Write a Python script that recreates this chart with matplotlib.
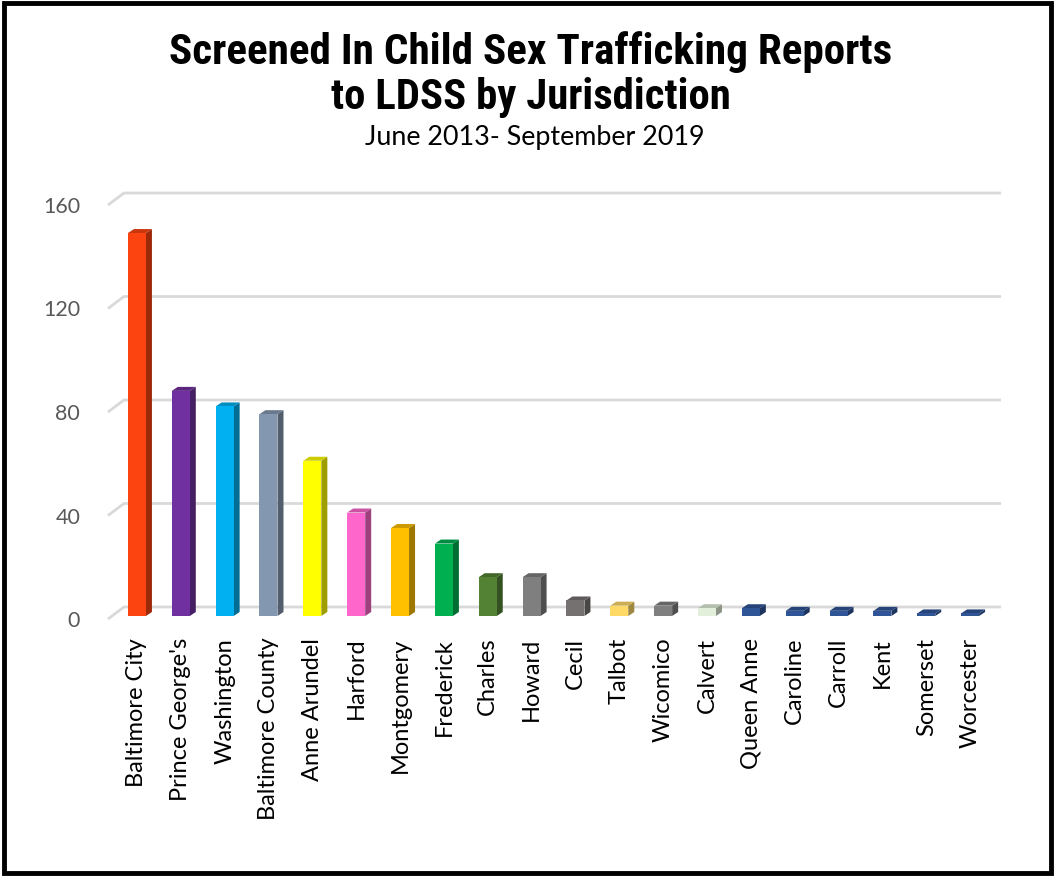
import matplotlib
matplotlib.use("Agg")
import matplotlib.pyplot as plt
import matplotlib.patches as mpatches
import matplotlib.transforms as mtransforms
from matplotlib.colors import to_rgb
from matplotlib import font_manager

categories = ["Baltimore City", "Prince George's", "Washington", "Baltimore County",
              "Anne Arundel", "Harford", "Montgomery", "Frederick", "Charles", "Howard",
              "Cecil", "Talbot", "Wicomico", "Calvert", "Queen Anne", "Caroline",
              "Carroll", "Kent", "Somerset", "Worcester"]
values = [148, 87, 81, 78, 60, 40, 34, 28, 15, 15, 6, 4, 4, 3, 3, 2, 2, 2, 1, 1]
colors = ["#FC4410", "#7030A0", "#00B0F0", "#8497B0", "#FFFF00", "#FF66CC",
          "#FFC000", "#00B050", "#548235", "#7F7F7F", "#767171", "#FFD966",
          "#7F7F7F", "#E2EFDA", "#2F5597", "#2F5597", "#2F5597", "#2F5597",
          "#2F5597", "#2F5597"]
yticks = [0, 40, 80, 120, 160]

title1 = "Screened In Child Sex Trafficking Reports"
title2 = "to LDSS by Jurisdiction"
subtitle = "June 2013- September 2019"

W, H = 1055, 878
fig = plt.figure(figsize=(W / 100, H / 100), dpi=100)
renderer = fig.canvas.get_renderer()

available = {f.name for f in font_manager.fontManager.ttflist}
title_family = "DejaVu Sans"
for cand in ["Liberation Sans Narrow", "DejaVu Sans Condensed", "Roboto Condensed", "Roboto"]:
    if cand in available:
        title_family = cand
        break


def fitted_text(x, y, s, target_w, size0, **kw):
    t = fig.text(x, y, s, fontsize=size0, **kw)
    w = t.get_window_extent(renderer).width
    t.set_fontsize(size0 * target_w / w)
    return t


# axes placement in pixels
ax_left_px, ax_right_px = 108, 985
ax_bottom_px, ax_top_px = 617, 203
ax = fig.add_axes([ax_left_px / W, 1 - ax_bottom_px / H,
                   (ax_right_px - ax_left_px) / W, (ax_bottom_px - ax_top_px) / H])
xmin, xmax = -0.66, 19.34
ax.set_xlim(xmin, xmax)
ax.set_ylim(0, 160)
for s in ax.spines.values():
    s.set_visible(False)

px_x = (xmax - xmin) / (ax_right_px - ax_left_px)   # data units per pixel (x)
px_y = 160 / (ax_bottom_px - ax_top_px)              # data units per pixel (y)

# back-wall gridlines with slanted left segment
gdx, gdy = 16 * px_x, 9 * px_y
for v in yticks:
    ax.plot([xmin, xmin + gdx, xmax + gdx], [v - 3 * px_y, v + gdy, v + gdy],
            color="#D9D9D9", lw=2, clip_on=False, zorder=1, solid_capstyle="butt")

# 3D-like bars
bw = 18 * px_x
bdx, bdy = 6 * px_x, 4 * px_y


def shade(c, f):
    r, g, b = to_rgb(c)
    return (r * f, g * f, b * f)


for i, (v, c) in enumerate(zip(values, colors)):
    x0, x1 = i - bw / 2, i + bw / 2
    front = mpatches.Rectangle((x0, 0), bw, v, facecolor=c, edgecolor="none",
                               zorder=3, clip_on=False)
    side = mpatches.Polygon([(x1, 0), (x1 + bdx, bdy), (x1 + bdx, v + bdy), (x1, v)],
                            closed=True, facecolor=shade(c, 0.62), edgecolor="none",
                            zorder=3, clip_on=False)
    top = mpatches.Polygon([(x0, v), (x1, v), (x1 + bdx, v + bdy), (x0 + bdx, v + bdy)],
                           closed=True, facecolor=shade(c, 0.8), edgecolor="none",
                           zorder=3, clip_on=False)
    for p in (side, top, front):
        ax.add_patch(p)

ax.set_yticks(yticks)
ax.set_yticklabels([str(t) for t in yticks], fontsize=15.5, color="#595959",
                   family=["Lato", "DejaVu Sans"])
ax.tick_params(axis="y", length=0, pad=20)
shift = mtransforms.ScaledTranslation(0, -2 / 100, fig.dpi_scale_trans)
for lab in ax.get_yticklabels():
    lab.set_transform(lab.get_transform() + shift)
ax.set_xticks(range(len(categories)))
ax.set_xticklabels(categories, rotation=90, fontsize=17, color="black",
                   family=["Lato", "DejaVu Sans"], va="top", ha="center")
ax.tick_params(axis="x", length=0, pad=15)

fitted_text(0.5 + 3 / W, 1 - 52 / H, title1, 723, 27, ha="center", va="center",
            fontweight="bold", family=[title_family, "DejaVu Sans"])
fitted_text(0.5 + 3 / W, 1 - 98 / H, title2, 400, 27, ha="center", va="center",
            fontweight="bold", family=[title_family, "DejaVu Sans"])
fitted_text(0.5 + 7 / W, 1 - 137 / H, subtitle, 340, 16, ha="center", va="center",
            family=["Lato", "DejaVu Sans"])

fig.patches.append(mpatches.Rectangle((4 / W, 4 / H), 1 - 8 / W, 1 - 8 / H,
                                      transform=fig.transFigure, fill=False,
                                      edgecolor="black", lw=3.5))

fig.savefig("out.png", dpi=100)
